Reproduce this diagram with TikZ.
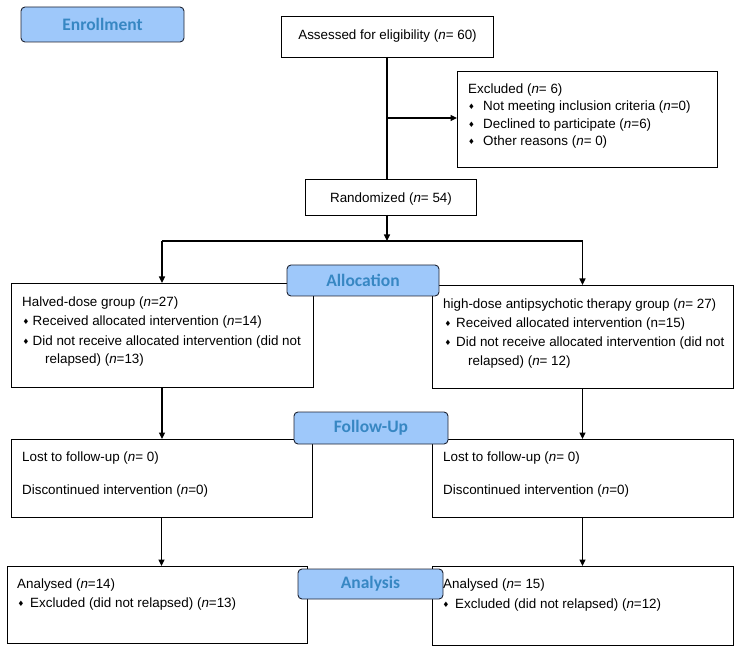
\documentclass[tikz,border=0pt]{standalone}
\usepackage{fontspec}
\setmainfont{Liberation Sans}
\newfontfamily\dejavu{DejaVu Sans}
\newfontfamily\carlito{Carlito}
\usetikzlibrary{arrows.meta}
\definecolor{lblfill}{RGB}{158,200,250}
\definecolor{lbltext}{RGB}{55,135,195}
\definecolor{lbldraw}{RGB}{30,35,50}
\newcommand\bul[1]{\makebox[#1pt][l]{\raisebox{1.0pt}{\dejavu\fontsize{7.5}{7.5}\selectfont ♦}}}
\begin{document}
\begin{tikzpicture}[x=1pt,y=-1pt,
  box/.style={draw=black, line width=0.8pt, inner sep=0pt, outer sep=0pt},
  lbl/.style={draw=lbldraw, fill=lblfill, rounded corners=4pt, line width=0.9pt, inner sep=0pt, outer sep=0pt, text=lbltext, font=\carlito\bfseries\fontsize{17.5}{17.5}\selectfont},
  txt/.style={anchor=base west, inner sep=0pt, font=\fontsize{13.4}{15}\selectfont},
  ctxt/.style={anchor=base, inner sep=0pt, font=\fontsize{13.4}{15}\selectfont},
  arr/.style={line width=1.2pt, -{Triangle[length=6.5pt,width=6pt]}},
  ln/.style={line width=1.2pt}]
\useasboundingbox (0,0) rectangle (739,652);
% boxes
\node[box, minimum width=212pt, minimum height=41pt] (assess) at (387,36.5) {};
\node[box, minimum width=260pt, minimum height=96pt] (excl) at (587,119) {};
\node[box, minimum width=171pt, minimum height=36pt] (rand) at (390.5,197) {};
\node[box, minimum width=302pt, minimum height=104pt] (lg) at (162,335) {};
\node[box, minimum width=301pt, minimum height=103pt] (rg) at (582.5,336.5) {};
\node[box, minimum width=301pt, minimum height=78pt] (fl) at (161.5,478) {};
\node[box, minimum width=301pt, minimum height=78pt] (fr) at (582.5,478) {};
\node[box, minimum width=300pt, minimum height=77pt] (al) at (157,604.5) {};
\node[box, minimum width=301pt, minimum height=79pt] (ar) at (582.5,605.5) {};
% connectors
\coordinate (j) at (387,118);
\coordinate (split) at (387,241);
\draw[ln] (assess.south) -- (assess.south |- rand.north);
\draw[arr] (j) -- (j -| excl.west);
\draw[arr] (assess.south |- rand.south) -- (split);
\draw[ln] (lg.north |- split) -- (rg.north |- split);
\draw[arr] (lg.north |- split) -- (lg.north);
\draw[arr] (rg.north |- split) -- (rg.north);
\draw[arr] (lg.south) -- (lg.south |- fl.north);
\draw[arr] (rg.south) -- (rg.south |- fr.north);
\draw[arr] (fl.south) -- (fl.south |- al.north);
\draw[arr] (fr.south) -- (fr.south |- ar.north);
% stage labels
\node[lbl, minimum width=163pt, minimum height=35pt] (enroll) at (102.5,24.5) {Enrollment};
\node[lbl, minimum width=152pt, minimum height=31pt] (alloc) at (363,280.5) {Allocation};
\node[lbl, minimum width=154pt, minimum height=32pt] (follow) at (371,428) {Follow-Up};
\node[lbl, minimum width=145pt, minimum height=30pt] (anal) at (370.5,584) {Analysis};
% texts
\node[ctxt] (tassess) at (387.5,40) {Assessed for eligibility (\textit{n}= 60)};
\node[ctxt] (trand) at (391,202.5) {Randomized (\textit{n}= 54)};
\node[txt] (tex1) at (468,93.5) {Excluded (\textit{n}= 6)};
\node[txt] (tex2) at (468,111) {\bul{15}Not meeting inclusion criteria (\textit{n}=0)};
\node[txt] (tex3) at (468,128.5) {\bul{15}Declined to participate (\textit{n}=6)};
\node[txt] (tex4) at (468,146) {\bul{15}Other reasons (\textit{n}= 0)};
\node[txt] (tlg1) at (22,306.5) {Halved-dose group (\textit{n}=27)};
\node[txt] (tlg2) at (22.5,325.5) {\bul{10}Received allocated intervention (\textit{n}=14)};
\node[txt] (tlg3) at (22.5,345) {\bul{10}Did not receive allocated intervention (did not};
\node[txt] (tlg4) at (45,363.5) {relapsed) (\textit{n}=13)};
\node[txt] (trg1) at (443,308.5) {high-dose antipsychotic therapy group (\textit{n}= 27)};
\node[txt] (trg2) at (444.5,327) {\bul{11.5}Received allocated intervention (n=15)};
\node[txt] (trg3) at (444.5,346.5) {\bul{11.5}Did not receive allocated intervention (did not};
\node[txt] (trg4) at (468,365) {relapsed) (\textit{n}= 12)};
\node[txt] (tfl1) at (22,461.5) {Lost to follow-up (\textit{n}= 0)};
\node[txt] (tfl2) at (22,494) {Discontinued intervention (\textit{n}=0)};
\node[txt] (tfr1) at (443,461.5) {Lost to follow-up (\textit{n}= 0)};
\node[txt] (tfr2) at (443,494) {Discontinued intervention (\textit{n}=0)};
\node[txt] (tal1) at (17,588.5) {Analysed (\textit{n}=14)};
\node[txt] (tal2) at (17.5,607.5) {\bul{12.5}Excluded (did not relapsed) (\textit{n}=13)};
\node[txt] (tar1) at (443,588.5) {Analysed (\textit{n}= 15)};
\node[txt] (tar2) at (442.5,608) {\bul{12.5}Excluded (did not relapsed) (\textit{n}=12)};
\end{tikzpicture}
\end{document}
